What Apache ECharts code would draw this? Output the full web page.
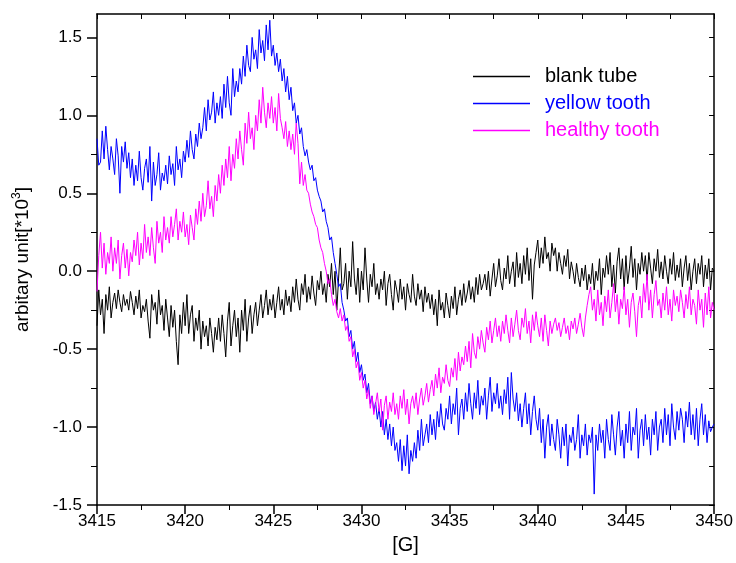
<!DOCTYPE html>
<html>
<head>
<meta charset="utf-8">
<script src="https://cdn.jsdelivr.net/npm/echarts@6/dist/echarts.min.js"></script>
<style>
  html, body { margin: 0; padding: 0; background: #fff; }
  #chart { width: 736px; height: 563px; }
</style>
</head>
<body>
<div id="chart"></div>
<script>
// field grid of the spectra: 3415 G to 3450 G, one reading every 0.1 G
var fieldStart = 3415;
var fieldStep = 0.1;

var seriesNames = ['blank tube', 'yellow tooth', 'healthy tooth'];

var blankTube = [
  -0.35,-0.12,-0.28,-0.18,-0.4,-0.15,-0.25,-0.1,-0.3,-0.2,
  -0.14,-0.24,-0.12,-0.2,-0.26,-0.15,-0.22,-0.18,-0.25,-0.13,
  -0.2,-0.28,-0.16,-0.24,-0.12,-0.3,-0.22,-0.26,-0.18,-0.32,
  -0.43,-0.15,-0.25,-0.2,-0.34,-0.12,-0.28,-0.22,-0.38,-0.18,
  -0.3,-0.42,-0.22,-0.36,-0.25,-0.45,-0.6,-0.28,-0.4,-0.2,
  -0.35,-0.15,-0.4,-0.28,-0.22,-0.45,-0.3,-0.38,-0.25,-0.5,
  -0.32,-0.42,-0.35,-0.48,-0.3,-0.4,-0.52,-0.36,-0.44,-0.3,
  -0.45,-0.28,-0.4,-0.55,-0.32,-0.2,-0.48,-0.35,-0.25,-0.42,
  -0.3,-0.52,-0.25,-0.38,-0.18,-0.45,-0.3,-0.22,-0.4,-0.28,
  -0.2,-0.35,-0.25,-0.15,-0.3,-0.22,-0.12,-0.28,-0.18,-0.25,
  -0.15,-0.3,-0.2,-0.1,-0.25,-0.18,-0.28,-0.12,-0.22,-0.16,
  -0.26,-0.1,-0.2,-0.05,-0.18,-0.25,-0.08,-0.15,-0.02,-0.2,
  -0.1,-0.18,-0.03,-0.14,-0.22,-0.06,-0.12,0.0,-0.15,-0.08,
  -0.2,-0.02,-0.1,0.05,-0.15,0.0,-0.25,-0.05,0.15,-0.12,
  -0.08,0.05,-0.18,0.0,-0.1,0.19,-0.05,-0.15,0.02,-0.2,
  0.0,-0.12,0.15,-0.05,-0.2,-0.02,-0.1,0.05,-0.15,-0.08,
  -0.18,-0.05,-0.12,0.0,-0.22,-0.08,-0.02,-0.15,-0.25,-0.06,
  -0.12,-0.2,-0.05,-0.18,-0.1,-0.25,-0.08,-0.15,-0.2,-0.02,
  -0.16,-0.22,-0.08,-0.18,-0.12,-0.26,-0.1,-0.2,-0.14,-0.24,
  -0.15,-0.28,-0.18,-0.35,-0.12,-0.25,-0.2,-0.3,-0.14,-0.22,
  -0.3,-0.16,-0.24,-0.1,-0.28,-0.18,-0.12,-0.22,-0.08,-0.2,
  -0.14,-0.06,-0.18,-0.1,-0.2,-0.04,-0.15,-0.02,-0.12,-0.08,
  -0.02,-0.12,0.0,-0.16,-0.05,0.05,-0.1,-0.03,0.08,-0.06,
  -0.12,0.02,-0.05,0.1,-0.08,0.0,0.06,-0.1,0.12,-0.04,
  0.05,-0.08,0.1,-0.02,0.15,-0.06,0.08,-0.18,0.04,0.12,
  0.2,0.02,0.15,0.05,0.22,0.08,0.12,0.0,0.18,0.1,
  0.15,0.0,0.12,0.05,-0.02,0.1,0.03,0.14,-0.05,0.06,
  0.0,-0.08,0.05,-0.04,-0.1,0.02,-0.06,0.04,-0.12,-0.02,
  -0.08,0.05,-0.12,0.0,-0.06,0.08,-0.15,0.02,-0.04,0.1,
  -0.02,0.12,-0.1,0.04,-0.14,0.06,0.15,-0.05,0.08,-0.12,
  0.1,-0.08,0.02,0.16,-0.04,0.08,-0.12,0.05,-0.02,0.12,
  0.0,0.1,-0.06,0.12,0.02,-0.08,0.08,0.0,0.14,-0.04,
  0.06,-0.05,0.1,0.0,-0.08,0.08,-0.02,0.12,-0.06,0.04,
  -0.04,0.08,-0.1,0.02,0.1,-0.06,0.05,-0.12,0.0,0.08,
  -0.08,0.05,-0.02,0.1,-0.1,0.04,-0.05,0.08,-0.12,0.02,
  0.0
];

var yellowTooth = [
  0.85,0.68,0.7,0.9,0.72,0.93,0.78,0.65,0.8,0.72,
  0.62,0.85,0.74,0.5,0.8,0.7,0.83,0.66,0.76,0.6,
  0.72,0.55,0.68,0.58,0.77,0.6,0.52,0.66,0.72,0.57,
  0.8,0.45,0.7,0.55,0.62,0.76,0.52,0.63,0.58,0.68,
  0.56,0.74,0.62,0.69,0.55,0.8,0.65,0.72,0.6,0.77,
  0.7,0.84,0.73,0.9,0.78,0.72,0.88,0.8,0.95,0.85,
  0.92,1.05,0.9,1.1,0.97,1.02,1.15,0.95,1.08,1.0,
  1.12,0.98,1.2,1.05,1.25,1.08,1.0,1.3,1.12,1.22,
  1.15,1.3,1.2,1.38,1.25,1.45,1.32,1.28,1.5,1.36,
  1.42,1.3,1.55,1.4,1.48,1.35,1.58,1.42,1.61,1.38,
  1.45,1.32,1.4,1.28,1.36,1.22,1.3,1.15,1.25,1.1,
  1.18,1.03,1.08,0.95,1.0,0.88,0.92,0.8,0.74,0.78,
  0.7,0.65,0.68,0.58,0.6,0.52,0.48,0.45,0.38,0.4,
  0.32,0.28,0.2,0.22,0.12,0.05,-0.02,-0.1,-0.08,-0.2,
  -0.25,-0.32,-0.3,-0.42,-0.38,-0.5,-0.45,-0.58,-0.52,-0.65,
  -0.6,-0.7,-0.66,-0.78,-0.72,-0.85,-0.8,-0.9,-0.84,-0.95,
  -0.88,-1.0,-0.9,-1.05,-0.95,-1.08,-0.98,-1.12,-1.0,-1.15,
  -1.1,-1.22,-1.08,-1.28,-1.12,-1.25,-1.05,-1.3,-1.15,-1.22,
  -1.1,-1.2,-1.02,-1.15,-0.95,-1.12,-1.05,-0.98,-1.1,-0.92,
  -1.05,-0.95,-1.08,-0.9,-1.0,-0.85,-0.98,-1.02,-0.88,-0.95,
  -0.8,-0.98,-0.85,-0.92,-0.75,-1.05,-0.88,-0.82,-0.95,-0.78,
  -0.9,-0.72,-0.85,-0.95,-0.78,-0.88,-0.7,-0.92,-0.8,-0.86,
  -0.75,-0.95,-0.8,-0.68,-0.9,-0.78,-0.85,-0.72,-0.88,-0.8,
  -0.92,-0.76,-0.85,-0.68,-0.95,-0.65,-0.82,-0.9,-0.78,-0.96,
  -0.85,-1.0,-0.88,-0.78,-0.98,-0.85,-1.05,-0.9,-0.8,-0.95,
  -1.02,-0.88,-1.1,-0.95,-1.2,-1.0,-0.92,-1.12,-0.98,-1.08,
  -1.15,-0.95,-1.05,-1.2,-1.0,-1.12,-0.98,-1.25,-1.05,-1.1,
  -1.0,-1.15,-1.08,-0.92,-1.2,-1.05,-1.12,-0.98,-1.18,-1.05,
  -1.1,-1.0,-1.43,-1.05,-1.15,-0.98,-1.1,-1.02,-1.2,-0.95,
  -1.08,-1.15,-0.92,-1.05,-1.18,-1.0,-0.9,-1.12,-1.02,-1.2,
  -0.98,-1.1,-0.9,-1.15,-1.0,-1.05,-0.88,-1.2,-1.02,-0.95,
  -1.12,-0.92,-1.08,-1.0,-1.18,-0.95,-1.05,-0.9,-1.15,-1.0,
  -0.95,-1.1,-0.88,-1.05,-0.92,-1.12,-0.85,-1.0,-1.08,-0.9,
  -1.02,-0.88,-0.95,-1.1,-0.9,-1.0,-0.84,-1.05,-0.92,-1.08,
  -0.88,-1.12,-0.95,-0.85,-1.05,-0.92,-1.1,-0.96,-1.03,-1.0,
  -0.98
];

var healthyTooth = [
  -0.13,0.1,0.25,0.02,0.18,-0.02,0.12,0.05,0.22,0.0,
  0.15,0.05,0.2,-0.05,0.1,0.18,0.02,0.14,-0.03,0.12,
  0.06,0.2,0.1,0.25,0.04,0.18,0.08,0.3,0.12,0.22,
  0.1,0.28,0.15,0.05,0.32,0.18,0.25,0.12,0.35,0.2,
  0.28,0.18,0.35,0.22,0.3,0.4,0.2,0.32,0.25,0.38,
  0.22,0.3,0.17,0.36,0.28,0.2,0.4,0.3,0.45,0.32,
  0.5,0.35,0.42,0.58,0.4,0.48,0.35,0.55,0.45,0.62,
  0.5,0.68,0.55,0.72,0.6,0.8,0.58,0.75,0.66,0.85,
  0.72,0.9,0.78,0.68,0.95,0.82,1.02,0.85,0.92,0.78,
  1.0,0.9,1.1,0.95,1.18,1.02,0.92,1.08,0.98,1.12,
  0.95,1.05,0.9,1.14,0.98,0.92,0.85,0.96,0.8,0.9,
  0.78,0.88,0.75,0.95,0.82,0.56,0.7,0.55,0.62,0.52,
  0.5,0.43,0.38,0.35,0.3,0.28,0.2,0.15,0.12,0.05,
  0.0,-0.08,-0.05,-0.15,-0.22,-0.18,-0.26,-0.3,-0.24,-0.32,
  -0.28,-0.38,-0.35,-0.45,-0.42,-0.55,-0.5,-0.62,-0.58,-0.7,
  -0.65,-0.75,-0.7,-0.82,-0.76,-0.88,-0.8,-0.92,-0.85,-0.78,
  -0.9,-0.82,-1.02,-0.86,-0.8,-0.95,-0.84,-0.9,-0.78,-0.92,
  -0.85,-0.95,-0.8,-0.88,-0.76,-0.92,-0.82,-0.98,-0.85,-0.8,
  -0.88,-0.78,-0.92,-0.82,-0.75,-0.86,-0.8,-0.72,-0.84,-0.76,
  -0.7,-0.8,-0.66,-0.75,-0.62,-0.78,-0.68,-0.72,-0.6,-0.7,
  -0.74,-0.62,-0.68,-0.56,-0.7,-0.52,-0.64,-0.55,-0.6,-0.48,
  -0.58,-0.45,-0.62,-0.4,-0.52,-0.56,-0.42,-0.5,-0.38,-0.46,
  -0.52,-0.36,-0.44,-0.32,-0.46,-0.38,-0.3,-0.42,-0.35,-0.45,
  -0.32,-0.4,-0.28,-0.38,-0.46,-0.3,-0.42,-0.34,-0.25,-0.38,
  -0.44,-0.3,-0.36,-0.24,-0.4,-0.32,-0.46,-0.28,-0.38,-0.26,
  -0.35,-0.42,-0.3,-0.45,-0.28,-0.38,-0.48,-0.32,-0.4,-0.34,
  -0.3,-0.38,-0.33,-0.42,-0.36,-0.3,-0.4,-0.35,-0.44,-0.32,
  -0.37,-0.3,-0.4,-0.34,-0.27,-0.36,-0.42,-0.3,-0.22,-0.15,
  -0.1,-0.25,-0.18,-0.32,-0.12,-0.28,-0.2,-0.35,-0.16,-0.26,
  -0.12,-0.3,-0.2,-0.08,-0.26,-0.15,-0.34,-0.18,-0.24,-0.1,
  -0.28,-0.18,-0.36,-0.2,-0.14,-0.26,-0.42,-0.22,-0.16,-0.3,
  -0.08,-0.2,-0.02,-0.25,-0.12,-0.3,-0.15,-0.06,-0.22,-0.18,
  -0.3,-0.14,-0.25,-0.1,-0.28,-0.18,-0.32,-0.12,-0.22,-0.16,
  -0.26,-0.12,-0.2,-0.3,-0.15,-0.24,-0.1,-0.28,-0.18,-0.22,
  -0.34,-0.12,-0.25,-0.18,-0.36,-0.14,-0.28,-0.1,-0.3,-0.2,
  -0.25
];

var yTicks = [-1.5, -1.0, -0.5, 0.0, 0.5, 1.0, 1.5];
var yMinorTicks = [-1.25, -0.75, -0.25, 0.25, 0.75, 1.25];

var colors = ['#000000', '#0000ff', '#ff00ff'];
var fontFamily = '"Liberation Sans", Arial, sans-serif';

function toPairs(values) {
    var out = [];
    for (var i = 0; i < values.length; i++) {
        out.push([+(fieldStart + i * fieldStep).toFixed(1), values[i]]);
    }
    return out;
}

var chart = echarts.init(document.getElementById('chart'));

var axisLine = { show: true, onZero: false, lineStyle: { color: '#000', width: 1.5 } };

var option = {
    animation: false,
    backgroundColor: '#fff',
    color: colors,
    textStyle: { fontFamily: fontFamily },
    grid: { left: 97, right: 21, top: 14, bottom: 58 },
    legend: {
        orient: 'vertical',
        left: 468,
        top: 61,
        itemWidth: 57,
        itemHeight: 1.5,
        itemGap: 6,
        icon: 'rect',
        textStyle: { fontSize: 20, lineHeight: 21, padding: [0, 0, 0, 10], fontFamily: fontFamily },
        data: seriesNames.map(function (n, i) {
            return { name: n, textStyle: { color: colors[i] } };
        })
    },
    xAxis: [
        {
            type: 'value', position: 'bottom',
            min: 3415, max: 3450, interval: 5,
            axisLine: axisLine,
            axisTick: { length: 9, lineStyle: { color: '#000', width: 1.5 } },
            minorTick: { show: true, splitNumber: 2, length: 5, lineStyle: { color: '#000', width: 1 } },
            axisLabel: {
                color: '#000', fontSize: 17, margin: 8, fontFamily: fontFamily,
                formatter: function (v) { return String(v); }
            },
            splitLine: { show: false },
            name: '[G]', nameLocation: 'middle', nameGap: 30,
            nameTextStyle: { color: '#000', fontSize: 20, fontFamily: fontFamily }
        },
        {
            type: 'value', position: 'top',
            min: 3415, max: 3450, interval: 5,
            axisLine: axisLine,
            axisTick: { inside: true, length: 5, lineStyle: { color: '#000', width: 1 } },
            minorTick: { show: true, splitNumber: 2, length: 5, lineStyle: { color: '#000', width: 1 } },
            axisLabel: { show: false },
            splitLine: { show: false }
        }
    ],
    yAxis: [
        {
            type: 'value', position: 'left',
            min: -1.5, max: 1.65,
            axisLine: axisLine,
            axisTick: { length: 10, customValues: yTicks, lineStyle: { color: '#000', width: 1.5 } },
            axisLabel: {
                customValues: yTicks, color: '#000', fontSize: 17, margin: 15, fontFamily: fontFamily,
                formatter: function (v) { return v.toFixed(1); }
            },
            splitLine: { show: false },
            name: 'arbitary unit[*10{sup|3}]', nameLocation: 'middle', nameGap: 63,
            nameTextStyle: {
                color: '#000', fontSize: 19, fontFamily: fontFamily,
                rich: { sup: { fontSize: 12, verticalAlign: 'top', padding: [0, 0, 11, 0], fontFamily: fontFamily } }
            }
        },
        {
            type: 'value', position: 'left',
            min: -1.5, max: 1.65,
            axisLine: { show: false, onZero: false },
            axisTick: { length: 6, customValues: yMinorTicks, lineStyle: { color: '#000', width: 1 } },
            axisLabel: { show: false },
            splitLine: { show: false }
        },
        {
            type: 'value', position: 'right',
            min: -1.5, max: 1.65,
            axisLine: axisLine,
            axisTick: { inside: true, length: 5, customValues: yTicks.concat(yMinorTicks), lineStyle: { color: '#000', width: 1 } },
            axisLabel: { show: false },
            splitLine: { show: false }
        }
    ],
    series: [
        { name: seriesNames[0], type: 'line', data: toPairs(blankTube), showSymbol: false, symbol: 'none', lineStyle: { width: 1, color: colors[0] } },
        { name: seriesNames[1], type: 'line', data: toPairs(yellowTooth), showSymbol: false, symbol: 'none', lineStyle: { width: 1, color: colors[1] } },
        { name: seriesNames[2], type: 'line', data: toPairs(healthyTooth), showSymbol: false, symbol: 'none', lineStyle: { width: 1, color: colors[2] } }
    ]
};

chart.setOption(option);
</script>
</body>
</html>
